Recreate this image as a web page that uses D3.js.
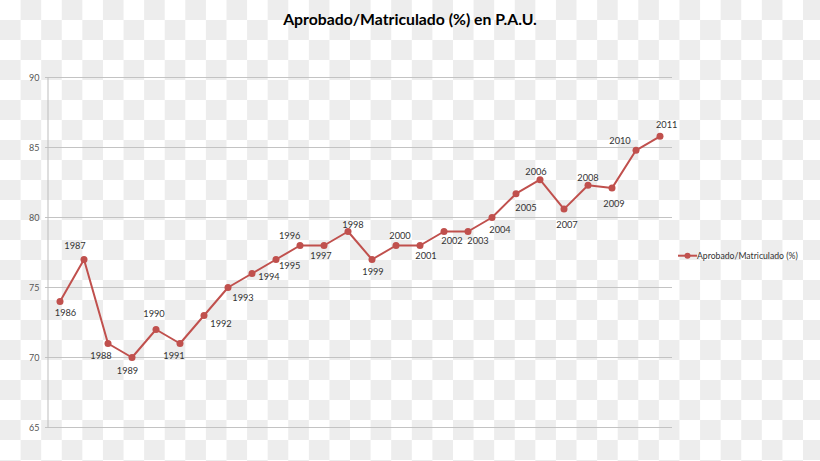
<!DOCTYPE html>
<html>
<head>
<meta charset="utf-8">
<script src="https://cdn.jsdelivr.net/npm/d3@7"></script>
<style>
  html, body { margin: 0; padding: 0; background: #fff; }
  svg { display: block; }
</style>
</head>
<body>
<svg id="chart" width="820" height="461"></svg>
<script>
// ---- data ----
const years = ["1986","1987","1988","1989","1990","1991","1992","1993","1994","1995","1996","1997","1998",
               "1999","2000","2001","2002","2003","2004","2005","2006","2007","2008","2009","2010","2011"];
const values = [74, 77, 71, 70, 72, 71, 73, 75, 76, 77, 78, 78, 79,
                77, 78, 78, 79, 79, 80, 81.7, 82.7, 80.6, 82.3, 82.1, 84.8, 85.8];
const yTicks = [65, 70, 75, 80, 85, 90];
const seriesName = "Aprobado/Matriculado (%)";
const titleText = "Aprobado/Matriculado (%) en P.A.U.";

// label placement (offset of label centre from point), layout only
const labelOffsets = [[5.5,11.3],[-9,-14.5],[-7,11.5],[-4.5,13.2],[-2,-16.5],[-6,11.5],[17,7.8],[15,9.5],
  [17,3.2],[13.7,6.2],[-10.3,-10.5],[-3,10.2],[5,-7.2],[1,11.5],[4,-10.5],[6,10.2],[8,8.5],[10,8.5],
  [8,11.8],[10,14],[-4,-8.3],[3,15],[0,-7.7],[2,15],[-16,-10],[6.7,-12]];

const W = 820, H = 461;
const svg = d3.select("#chart");
const FONT = "Lato, 'Open Sans', sans-serif";
const red = "#c0504d";

// ---- checkerboard background ----
const sx = 20.59, sy = 20;
const bg = svg.append("g");
const nCols = Math.ceil(W / sx), nRows = Math.ceil(H / sy);
const cells = [];
for (let r = 0; r < nRows; r++) for (let c = 0; c < nCols; c++) if ((r + c) % 2 === 1) cells.push([r, c]);
bg.selectAll("rect").data(cells).join("rect")
  .attr("x", d => d[1] * sx).attr("y", d => d[0] * sy)
  .attr("width", sx).attr("height", sy)
  .attr("fill", "#ededed");

function fit(sel, target) {
  const w = sel.node().getComputedTextLength();
  const fs = parseFloat(sel.attr("font-size"));
  sel.attr("font-size", fs * target / w);
}

// ---- scales ----
const x = d3.scaleBand().domain(years).range([48, 672]).padding(0);
const y = d3.scaleLinear().domain([65, 90]).range([427.5, 77.5]);

// gridlines
svg.append("g").selectAll("line").data(yTicks).join("line")
  .attr("x1", 45).attr("x2", 672)
  .attr("y1", d => y(d)).attr("y2", d => y(d))
  .attr("stroke", "#c3c3c3").attr("stroke-width", 1);

// y axis line
svg.append("line").attr("x1", 48).attr("x2", 48)
  .attr("y1", y(90)).attr("y2", y(65))
  .attr("stroke", "#bdbdbd").attr("stroke-width", 1);

// tick labels
svg.append("g").selectAll("text").data(yTicks).join("text")
  .attr("x", 39.5).attr("y", d => y(d))
  .attr("text-anchor", "end").attr("dominant-baseline", "central")
  .attr("font-family", FONT).attr("font-size", 9).attr("fill", "#555555")
  .text(d => d);

// line
const line = d3.line().x((d, i) => x(years[i]) + x.bandwidth() / 2).y(d => y(d));
svg.append("path").datum(values).attr("d", line)
  .attr("fill", "none").attr("stroke", red).attr("stroke-width", 2).attr("stroke-linejoin", "round");

svg.append("g").selectAll("circle").data(values).join("circle")
  .attr("cx", (d, i) => x(years[i]) + x.bandwidth() / 2).attr("cy", d => y(d))
  .attr("r", 3.5).attr("fill", red);

// data labels
const labels = svg.append("g").selectAll("text").data(values).join("text")
  .attr("x", (d, i) => x(years[i]) + x.bandwidth() / 2 + labelOffsets[i][0])
  .attr("y", (d, i) => y(d) + labelOffsets[i][1])
  .attr("text-anchor", "middle").attr("dominant-baseline", "central")
  .attr("font-family", FONT).attr("font-size", 9.5).attr("fill", "#333333")
  .text((d, i) => years[i]);
{
  const w = labels.node().getComputedTextLength();
  labels.attr("font-size", 9.5 * 21.5 / w);
}

// title
const title = svg.append("text").attr("x", 410).attr("y", 18)
  .attr("text-anchor", "middle").attr("dominant-baseline", "central")
  .attr("font-family", FONT).attr("font-weight", "bold").attr("font-size", 15)
  .attr("fill", "#000000").text(titleText);
fit(title, 254);

// legend
const lg = svg.append("g");
lg.append("line").attr("x1", 678).attr("x2", 697).attr("y1", 255.7).attr("y2", 255.7)
  .attr("stroke", red).attr("stroke-width", 2);
lg.append("circle").attr("cx", 687.5).attr("cy", 255.7).attr("r", 3).attr("fill", red);
const lt = lg.append("text").attr("x", 697).attr("y", 255.7)
  .attr("dominant-baseline", "central")
  .attr("font-family", FONT).attr("font-size", 8.5).attr("fill", "#333333")
  .text(seriesName);
fit(lt, 101);
</script>
</body>
</html>
